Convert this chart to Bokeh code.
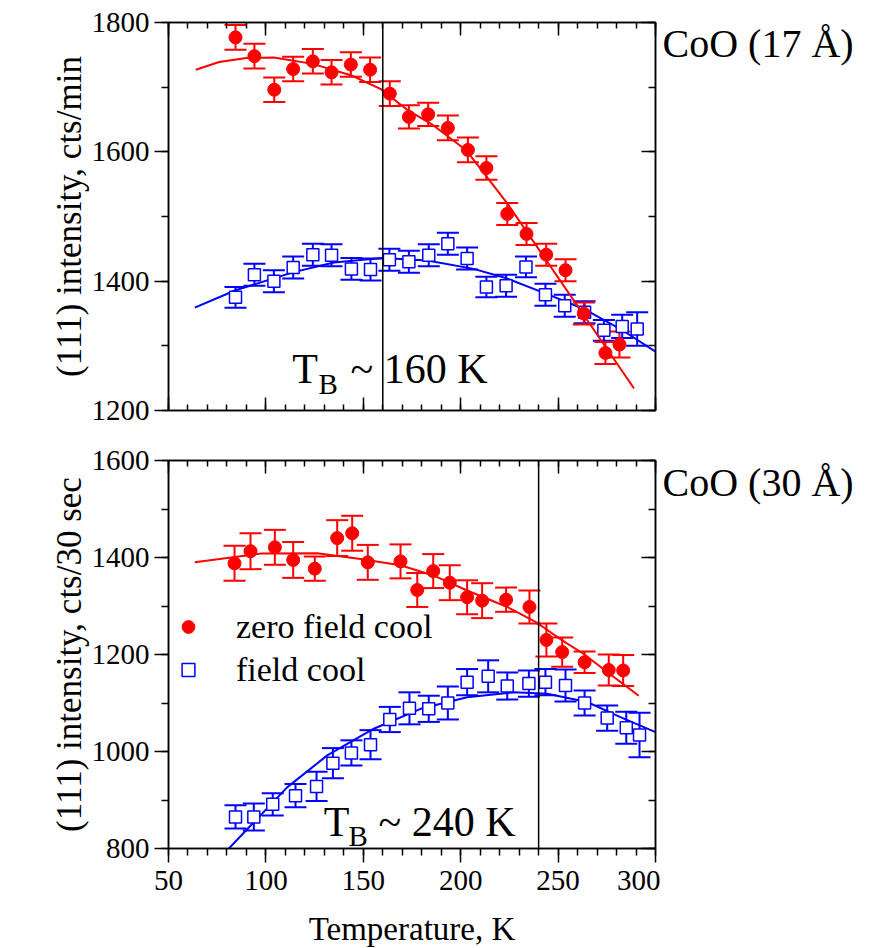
from bokeh.plotting import figure
from bokeh.models import (Range1d, LinearAxis, SingleIntervalTicker, Whisker, TeeHead,
                          ColumnDataSource, Span, Label, Legend, LegendItem)
from bokeh.layouts import column, row
from bokeh.embed import file_html
from bokeh.resources import INLINE

FONT = "Liberation Serif"
RED = "#ff0000"
BLUE = "#0000ff"

# ---------------- data: CoO (17 A) ----------------
t17_zfc_T = [84.4, 94.1, 104.3, 114.0, 124.1, 133.7, 143.6, 153.5, 163.6, 173.4, 183.3,
             193.4, 203.7, 213.2, 223.9, 233.8, 243.9, 253.8, 263.2, 274.3, 281.5]
t17_zfc_I = [1777, 1748, 1696, 1728, 1740, 1723, 1735, 1727, 1690, 1654, 1658,
             1637, 1603, 1575, 1504, 1473, 1441, 1417, 1350, 1289, 1302]
t17_zfc_err = [19, 19, 19, 19, 19, 19, 19, 19, 19, 18, 18,
               19, 19, 18, 17, 17, 17, 17, 17, 17, 20]

t17_fc_T = [84.4, 94.1, 104.1, 114.0, 124.1, 133.7, 143.9, 153.7, 163.4, 173.4, 183.6,
            193.4, 203.3, 213.2, 223.3, 233.5, 243.5, 253.4, 263.6, 273.5, 282.9, 290.6]
t17_fc_I = [1375, 1410, 1400, 1421, 1441, 1440, 1419, 1418, 1433, 1430, 1440,
            1458, 1435, 1391, 1393, 1422, 1379, 1362, 1352, 1324, 1330, 1326]
t17_fc_err = [16, 17, 17, 17, 17, 17, 17, 17, 17, 17, 17,
              17, 17, 16, 17, 16, 17, 17, 17, 16, 18, 26]

fit17_zfc_T = [64, 76, 90, 104, 124, 144, 159, 173, 185, 203, 224, 289]
fit17_zfc_I = [1727, 1739, 1745, 1746, 1736, 1718, 1697, 1664, 1643, 1602, 1520, 1234]
fit17_fc_T = [63.5, 84.4, 114.3, 134.9, 159.7, 182.8, 206.7, 223.9, 244.4, 263.2, 282, 300]
fit17_fc_I = [1359, 1386, 1414, 1429, 1436, 1432, 1419, 1404, 1380, 1357, 1326, 1291]

# ---------------- data: CoO (30 A) ----------------
t30_zfc_T = [83.9, 92.1, 104.6, 114.0, 125.1, 136.6, 144.3, 152.3, 169.1, 177.7, 185.9,
             194.4, 203.3, 211.0, 223.3, 235.3, 244.0, 252.1, 263.6, 276.0, 283.4]
t30_zfc_I = [1388, 1413, 1421, 1395, 1377, 1440, 1450, 1390, 1392, 1333, 1372,
             1348, 1318, 1311, 1313, 1298, 1230, 1205, 1184, 1168, 1167]
t30_zfc_err = [36, 37, 36, 37, 25, 37, 36, 36, 35, 35, 35,
               36, 35, 36, 25, 34, 34, 30, 22, 32, 32]

t30_fc_T = [84.4, 93.8, 103.5, 115.2, 126.0, 134.4, 143.9, 153.7, 163.6, 173.7, 183.6,
            193.4, 203.3, 214.1, 223.9, 235.0, 243.5, 253.8, 263.6, 275.2, 285.0, 291.8]
t30_fc_I = [865, 865, 891, 909, 928, 976, 997, 1014, 1066, 1089, 1088,
            1100, 1143, 1155, 1135, 1140, 1143, 1136, 1100, 1069, 1049, 1034]
t30_fc_err = [24, 28, 23, 24, 30, 31, 26, 30, 26, 33, 27,
              34, 27, 33, 28, 27, 27, 33, 26, 26, 33, 46]

fit30_zfc_T = [63.5, 97.2, 126.3, 148.6, 169.1, 185.9, 203.3, 223.9, 239.3, 252.1, 263.2, 275.2, 291.4]
fit30_zfc_I = [1390, 1408, 1409, 1397, 1384, 1363, 1332, 1298, 1265, 1229, 1201, 1164, 1115]
fit30_fc_T = [81, 93.8, 110.9, 131.5, 155.4, 179.4, 203.3, 227.3, 244.4, 264.9, 282, 300]
fit30_fc_I = [800, 854, 926, 992, 1047, 1088, 1112, 1122, 1119, 1102, 1071, 1040]

T_B_17 = 160
T_B_30 = 240
x_ticks_interval = 50
y_ticks_interval = 200


def style_axis(ax, tin, tout, labels):
    ax.major_tick_in = tin[0]; ax.major_tick_out = tout[0]
    ax.minor_tick_in = tin[1]; ax.minor_tick_out = tout[1]
    ax.axis_line_width = 1.5
    ax.major_tick_line_width = 1.5
    ax.minor_tick_line_width = 1.5
    ax.axis_line_color = "black"
    ax.major_tick_line_color = "black"
    ax.minor_tick_line_color = "black"
    if labels:
        ax.major_label_text_font = FONT
        ax.major_label_text_font_size = "29px"
        ax.major_label_text_color = "black"
    else:
        ax.major_label_text_color = None
        ax.major_label_text_font_size = "2px"
        ax.major_label_standoff = 0
    return ax


def make_fig(y0, y1, top, bottom, ylabel, show_xlabels):
    p = figure(output_backend="svg", toolbar_location=None,
               frame_width=487, frame_height=388,
               x_range=Range1d(50, 300), y_range=Range1d(y0, y1),
               min_border_left=168, min_border_right=5,
               min_border_top=top, min_border_bottom=bottom,
               x_axis_type=None, y_axis_type=None)
    p.grid.visible = False
    p.outline_line_color = "black"
    p.outline_line_width = 1.5

    xt = lambda: SingleIntervalTicker(interval=x_ticks_interval, num_minor_ticks=5)
    yt = lambda: SingleIntervalTicker(interval=y_ticks_interval, num_minor_ticks=2)

    if show_xlabels:
        xb = style_axis(LinearAxis(ticker=xt()), (0, 0), (14, 7), True)
        xb.major_label_standoff = 8
        xb.axis_label = "Temperature, K"
        xb.axis_label_text_font = FONT
        xb.axis_label_text_font_size = "33px"
        xb.axis_label_text_font_style = "normal"
        xb.axis_label_text_color = "black"
        xb.axis_label_standoff = 18
    else:
        xb = style_axis(LinearAxis(ticker=xt()), (13, 6), (0, 0), False)
    p.add_layout(xb, "below")
    p.add_layout(style_axis(LinearAxis(ticker=xt()), (13, 6), (0, 0), False), "above")

    yl = style_axis(LinearAxis(ticker=yt()), (0, 0), (14, 7), True)
    yl.major_label_standoff = 5
    yl.axis_label = ylabel
    yl.axis_label_text_font = FONT
    yl.axis_label_text_font_size = "35px"
    yl.axis_label_text_font_style = "normal"
    yl.axis_label_text_color = "black"
    yl.axis_label_standoff = 0
    p.add_layout(yl, "left")
    p.add_layout(style_axis(LinearAxis(ticker=yt()), (14, 7), (0, 0), False), "right")
    return p


def make_side(top, bottom, text, ytext):
    # side panel, same frame height as its neighbour, in pixel units from frame bottom
    q = figure(output_backend="svg", toolbar_location=None, title=None,
               frame_width=222, frame_height=388,
               x_range=Range1d(0, 222), y_range=Range1d(0, 388),
               min_border_left=0, min_border_right=0,
               min_border_top=top, min_border_bottom=bottom,
               x_axis_type=None, y_axis_type=None)
    q.grid.visible = False
    q.outline_line_color = None
    q.add_layout(Label(x=2, y=ytext, text=text, text_font=FONT,
                       text_font_size="40px", text_color="black"))
    return q


def add_series(p, T, I, err, fitT, fitI, color, marker):
    p.line(fitT, fitI, line_color=color, line_width=2)
    src = ColumnDataSource(dict(x=T, y=I,
                                up=[a + b for a, b in zip(I, err)],
                                lo=[a - b for a, b in zip(I, err)]))
    w = Whisker(source=src, base="x", upper="up", lower="lo",
                line_color=color, line_width=2,
                upper_head=TeeHead(size=22, line_color=color, line_width=2),
                lower_head=TeeHead(size=22, line_color=color, line_width=2))
    p.add_layout(w)
    if marker == "circle":
        r = p.scatter("x", "y", source=src, marker="circle", size=13,
                      fill_color=color, line_color=color)
    else:
        r = p.scatter("x", "y", source=src, marker="square", size=12,
                      fill_color="white", line_color=color, line_width=1.5)
    return r


def tb_label(p, xT, yT, xB, yB, xR, rest):
    kw = dict(text_font=FONT, text_color="black")
    p.add_layout(Label(x=xT, y=yT, text="T", text_font_size="42px", **kw))
    p.add_layout(Label(x=xB, y=yB, text="B", text_font_size="29px", **kw))
    p.add_layout(Label(x=xR, y=yT, text=rest, text_font_size="42px", **kw))


TOP1, BOT1, TOP2, BOT2 = 22, 25, 25, 100

# ---------------- top panel ----------------
p1 = make_fig(1200, 1800, TOP1, BOT1, "(111) intensity, cts/min", False)
p1.add_layout(Span(location=T_B_17, dimension="height", line_color="black", line_width=1.5))
add_series(p1, t17_fc_T, t17_fc_I, t17_fc_err, fit17_fc_T, fit17_fc_I, BLUE, "square")
add_series(p1, t17_zfc_T, t17_zfc_I, t17_zfc_err, fit17_zfc_T, fit17_zfc_I, RED, "circle")
tb_label(p1, 113.5, 1228, 127.0, 1216, 143.4, "~ 160 K")
q1 = make_side(TOP1, BOT1, "CoO (17 Å)", 345)

# ---------------- bottom panel ----------------
p2 = make_fig(800, 1600, TOP2, BOT2, "(111) intensity, cts/30 sec", True)
p2.add_layout(Span(location=T_B_30, dimension="height", line_color="black", line_width=1.5))
r_fc = add_series(p2, t30_fc_T, t30_fc_I, t30_fc_err, fit30_fc_T, fit30_fc_I, BLUE, "square")
r_zfc = add_series(p2, t30_zfc_T, t30_zfc_I, t30_zfc_err, fit30_zfc_T, fit30_zfc_I, RED, "circle")
tb_label(p2, 129.7, 808, 142.4, 792, 157.8, "~ 240 K")
q2 = make_side(TOP2, BOT2, "CoO (30 Å)", 344)

legend = Legend(items=[LegendItem(label="zero field cool", renderers=[r_zfc]),
                       LegendItem(label="field cool", renderers=[r_fc])],
                location=(4, 157), padding=0, margin=0, spacing=0,
                glyph_width=32, glyph_height=43, label_standoff=32,
                label_text_font=FONT, label_text_font_size="34px",
                label_text_color="black",
                background_fill_alpha=0, border_line_color=None)
p2.add_layout(legend)

layout = column(row(p1, q1, spacing=0), row(p2, q2, spacing=0), spacing=0)
open("out.html", "w").write(file_html(layout, INLINE))
